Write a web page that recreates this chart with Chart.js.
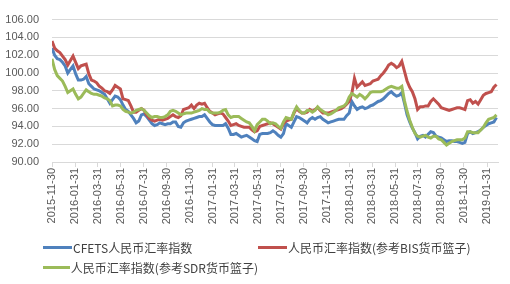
<!DOCTYPE html>
<html>
<head>
<meta charset="utf-8">
<script src="https://cdn.jsdelivr.net/npm/chart.js@4/dist/chart.umd.min.js"></script>
<style>
  body { margin: 0; background: #fff; }
  #wrap { position: relative; width: 510px; height: 284px; }
  #legend {
    position: absolute; left: 43px; top: 239px;
    display: grid; grid-template-columns: 215px auto; row-gap: 4px;
    font: 12px "Noto Sans CJK SC", sans-serif; color: #404040;
  }
  #legend .item { display: flex; align-items: center; height: 16px; white-space: nowrap; }
  #legend .swatch { width: 29px; height: 3px; margin-right: 1px; }
</style>
</head>
<body>
<div id="wrap">
  <canvas id="myChart" width="510" height="284"></canvas>
  <div id="legend"></div>
</div>
<script>
// weekly index values, first week starts 2015-11-30
const startDate = '2015-11-30'
const endDate = '2019-03-01'

const cfets = [
  102.8, 102.0, 101.6, 101.5, 101.2, 100.8, 100.0, 100.4, 100.8, 99.9,
  99.2, 99.2, 99.3, 99.6, 98.8, 98.5, 98.2, 98.1, 98.0, 97.8,
  97.6, 97.1, 96.6, 97.0, 97.4, 97.3, 97.0, 96.4, 95.9, 95.7,
  95.3, 94.9, 94.4, 94.6, 95.3, 95.4, 95.1, 94.7, 94.3, 94.1,
  94.2, 94.4, 94.3, 94.2, 94.3, 94.3, 94.5, 94.5, 94.0, 93.9,
  94.4, 94.6, 94.7, 94.8, 94.9, 95.0, 95.1, 95.1, 95.3, 94.9,
  94.5, 94.2, 94.1, 94.1, 94.1, 94.1, 94.3, 93.8, 93.1, 93.1,
  93.2, 93.0, 92.8, 92.9, 93.0, 92.8, 92.6, 92.4, 92.3, 93.1,
  93.2, 93.2, 93.2, 93.3, 93.5, 93.3, 93.0, 92.8, 93.2, 94.3,
  94.1, 93.9, 94.5, 95.1, 95.0, 94.8, 94.6, 94.4, 94.8, 95.0,
  94.8, 95.0, 95.1, 94.8, 94.6, 94.4, 94.5, 94.6, 94.7, 94.8,
  94.8, 94.8, 95.2, 95.5, 96.8, 96.3, 95.9, 96.1, 96.2, 96.0,
  96.1, 96.3, 96.4, 96.6, 96.8, 96.9, 97.1, 97.4, 97.7, 97.9,
  97.6, 97.4, 97.5, 97.8, 96.6, 95.3, 94.5, 93.8, 93.3, 92.6,
  92.9, 93.0, 92.8, 93.1, 93.4, 93.3, 92.9, 92.8, 92.7, 92.5,
  92.3, 92.4, 92.4, 92.3, 92.3, 92.2, 92.1, 92.2, 93.2, 93.4,
  93.2, 93.3, 93.4, 93.6, 93.9, 94.1, 94.3, 94.4, 94.5, 95.0
]

const bis = [
  103.6, 102.8, 102.5, 102.3, 101.9, 101.5, 100.9, 101.4, 101.9, 101.2,
  100.5, 100.8, 100.9, 101.0, 99.9, 99.2, 99.1, 98.9, 98.5, 98.3,
  98.0, 97.9, 97.7, 98.1, 98.6, 98.4, 98.2, 97.1, 97.0, 96.9,
  96.3, 95.6, 95.6, 95.8, 96.0, 95.8, 95.3, 94.9, 94.7, 94.6,
  94.7, 94.8, 94.7, 94.8, 94.9, 95.1, 95.3, 95.1, 95.0, 95.2,
  95.9, 96.0, 96.1, 96.4, 96.0, 96.4, 96.6, 96.5, 96.6, 96.1,
  95.7, 95.5, 95.3, 95.4, 95.5, 95.4, 95.0, 94.6, 94.1, 94.2,
  94.3, 94.1, 94.0, 93.9, 93.9, 93.9, 93.6, 93.4, 93.5, 94.0,
  94.1, 94.2, 94.3, 94.4, 94.3, 94.1, 93.9, 93.7, 94.3, 94.6,
  94.7, 94.8, 95.5, 96.0, 95.7, 95.5, 95.5, 95.6, 95.9, 95.7,
  95.9, 96.1, 95.8, 95.5, 95.5, 95.5, 95.6, 95.7, 95.8, 95.9,
  96.0, 96.2, 96.5, 96.8, 97.7, 99.4, 98.4, 98.7, 99.0, 98.6,
  98.7, 98.8, 99.1, 99.2, 99.3, 99.7, 100.0, 100.4, 100.9, 101.1,
  100.9, 100.6, 100.8, 101.3, 100.2, 99.1, 98.4, 97.9, 97.1, 95.9,
  96.2, 96.2, 96.3, 96.3, 96.8, 97.1, 96.8, 96.5, 96.1, 96.0,
  95.9, 95.8, 95.9, 96.0, 96.1, 96.1, 96.0, 95.9, 96.9, 97.0,
  96.6, 96.8, 96.5, 97.0, 97.5, 97.7, 97.8, 97.9, 98.4, 98.7
]

const sdr = [
  101.6, 100.4, 99.7, 99.4, 99.1, 98.5, 97.8, 98.0, 98.2, 97.6,
  97.1, 97.3, 97.7, 98.1, 97.9, 97.7, 97.6, 97.6, 97.5, 97.4,
  97.2, 97.1, 96.9, 96.3, 96.4, 96.4, 96.3, 95.9, 95.7, 95.6,
  95.5, 95.6, 95.8, 95.9, 96.0, 95.8, 95.5, 95.2, 95.0, 95.1,
  95.1, 95.0, 95.0, 95.1, 95.3, 95.7, 95.8, 95.7, 95.5, 95.3,
  95.4, 95.5, 95.5, 95.5, 95.6, 95.7, 95.8, 96.0, 95.9, 95.9,
  95.6, 95.5, 95.5, 95.5, 95.6, 95.8, 95.9, 95.3, 95.0, 95.1,
  95.1, 95.1, 94.9, 94.7, 94.5, 94.4, 94.0, 93.5, 94.2, 94.5,
  94.8, 94.8, 94.6, 94.3, 94.4, 94.3, 94.0, 93.8, 94.5, 95.0,
  94.9, 94.8, 95.6, 96.2, 95.8, 95.5, 95.5, 95.8, 95.8, 95.6,
  95.8, 96.2, 95.9, 95.7, 95.5, 95.3, 95.4, 95.6, 95.8, 96.1,
  96.2, 96.3, 96.6, 97.3, 97.7, 97.5, 97.3, 97.6, 97.4, 97.1,
  97.4, 97.8, 97.9, 97.9, 97.9, 97.9, 98.0, 98.2, 98.4, 98.5,
  98.4, 98.3, 98.3, 98.5, 96.9, 95.7, 94.7, 93.9, 93.2, 92.9,
  92.8, 92.9, 93.0, 92.8, 92.7, 92.9, 92.9, 92.6, 92.5, 92.2,
  91.9, 92.1, 92.3, 92.4, 92.5, 92.5, 92.5, 92.7, 93.4, 93.4,
  93.3, 93.3, 93.3, 93.6, 93.9, 94.4, 94.8, 94.9, 95.0, 95.3
]

const tickLabels = [
  '2015-11-30', '2016-01-31', '2016-03-31', '2016-05-31', '2016-07-31',
  '2016-09-30', '2016-11-30', '2017-01-31', '2017-03-31', '2017-05-31',
  '2017-07-31', '2017-09-30', '2017-11-30', '2018-01-31', '2018-03-31',
  '2018-05-31', '2018-07-31', '2018-09-30', '2018-11-30', '2019-01-31'
]

const seriesNames = ['CFETS人民币汇率指数', '人民币汇率指数(参考BIS货币篮子)', '人民币汇率指数(参考SDR货币篮子)']
const seriesColors = ['#4F81BD', '#C0504D', '#9BBB59']

const DAY = 864e5
const t0 = Date.parse(startDate)
const weekDates = cfets.map((_, i) => new Date(t0 + i * 7 * DAY).toISOString().slice(0, 10))

function points(values) {
  return values.map((v, i) => ({ x: Date.parse(weekDates[i]), y: v }))
}

const ctx = document.getElementById('myChart').getContext('2d')
const myChart = new Chart(ctx, {
  type: 'line',
  data: {
    datasets: [cfets, bis, sdr].map((vals, i) => ({
      label: seriesNames[i],
      data: points(vals),
      borderColor: seriesColors[i],
      backgroundColor: seriesColors[i],
      borderWidth: 3,
      pointRadius: 0,
      tension: 0,
      order: 2 - i
    }))
  },
  options: {
    responsive: false,
    animation: false,
    devicePixelRatio: 1,
    layout: { padding: { top: 12, right: 12, bottom: 52, left: 0 } },
    plugins: { legend: { display: false }, tooltip: { enabled: false } },
    scales: {
      x: {
        type: 'linear',
        min: t0,
        max: Date.parse(endDate),
        afterBuildTicks: (scale) => { scale.ticks = tickLabels.map(d => ({ value: Date.parse(d) })) },
        afterFit: (scale) => { scale.height = 70 },
        grid: { drawOnChartArea: false, drawTicks: true, tickLength: 5, color: '#d9d9d9' },
        border: { display: true, color: '#d9d9d9' },
        ticks: {
          autoSkip: false,
          minRotation: 90,
          maxRotation: 90,
          padding: 1,
          color: '#595959',
          font: { family: 'Liberation Sans, Arial, sans-serif', size: 11 },
          callback: (v) => new Date(v).toISOString().slice(0, 10)
        }
      },
      y: {
        min: 90,
        max: 106,
        afterFit: (scale) => { scale.width = 52 },
        grid: { color: '#d9d9d9', drawTicks: false },
        border: { display: false },
        ticks: {
          stepSize: 2,
          padding: 13,
          color: '#595959',
          font: { family: 'Liberation Sans, Arial, sans-serif', size: 11 },
          callback: (v) => v.toFixed(2)
        }
      }
    }
  }
})

// legend drawn as html from the chart's datasets
const legendEl = document.getElementById('legend')
myChart.data.datasets.forEach(ds => {
  const item = document.createElement('div')
  item.className = 'item'
  item.innerHTML = '<span class="swatch" style="background:' + ds.borderColor + '"></span><span>' + ds.label + '</span>'
  legendEl.appendChild(item)
})
</script>
</body>
</html>
